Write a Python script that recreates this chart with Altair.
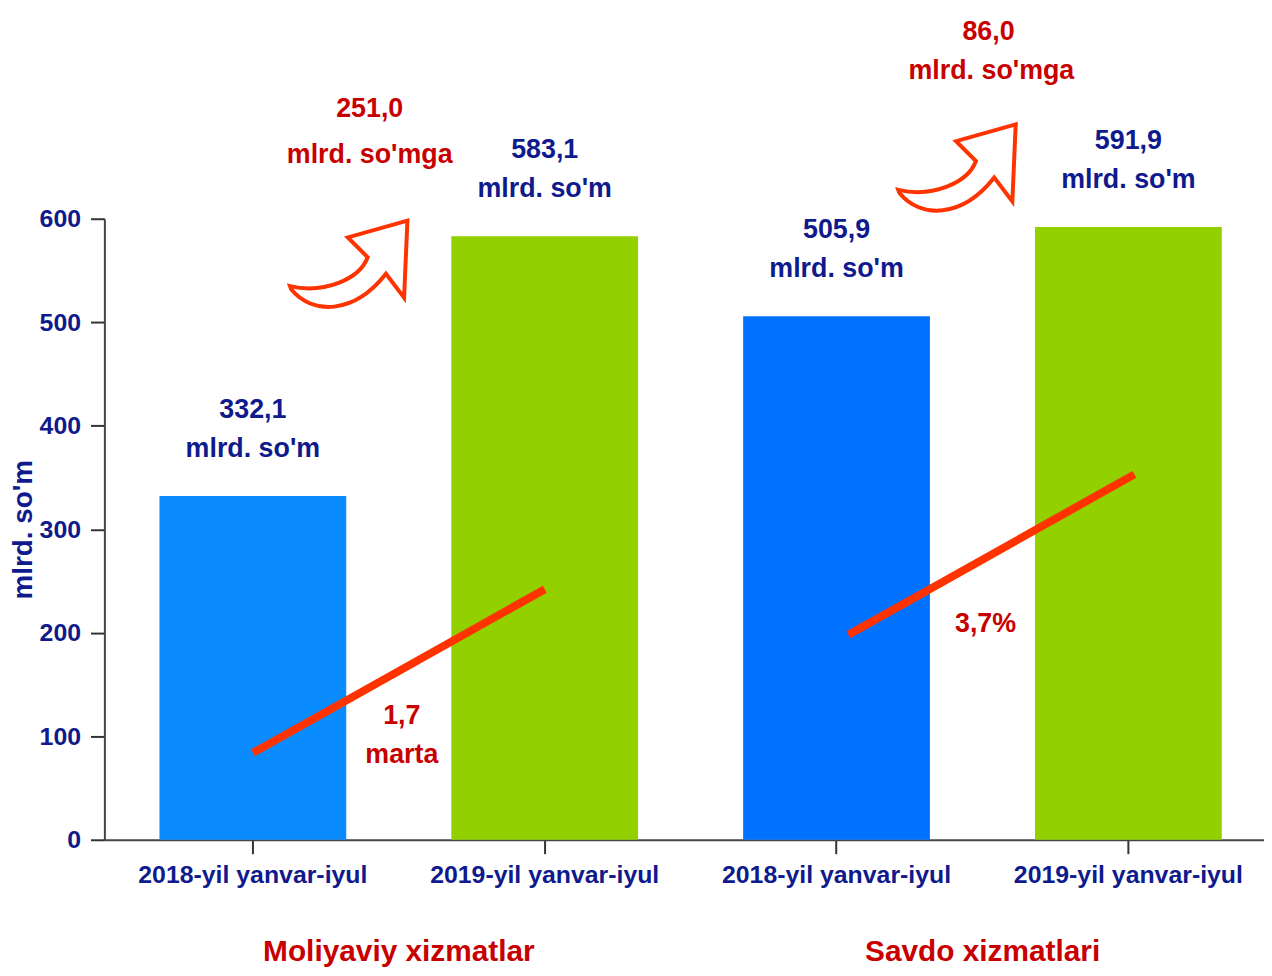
import altair as alt
import pandas as pd

# ---------------- data ----------------
keys = ["M2018", "M2019", "S2018", "S2019"]
tick_labels = ["2018-yil yanvar-iyul", "2019-yil yanvar-iyul",
               "2018-yil yanvar-iyul", "2019-yil yanvar-iyul"]
values = [332.1, 583.1, 505.9, 591.9]
value_text = ["332,1", "583,1", "505,9", "591,9"]
bar_colors = ["#0a8cff", "#92d000", "#0072ff", "#92d000"]
unit_text = "mlrd. so'm"
y_ticks = [0, 100, 200, 300, 400, 500, 600]

group_names = ["Moliyaviy xizmatlar", "Savdo xizmatlari"]
group_pos = [0.5, 2.5]
group_val = [-108, -108]

# growth lines (position in category units, value in mlrd. so'm)
line_group = ["M", "M", "S", "S"]
line_pos = [0.0, 1.0, 2.04, 3.02]
line_val = [84, 242, 198, 353]

# red annotations
note_text = ["251,0", "mlrd. so'mga", "86,0", "mlrd. so'mga", "1,7", "marta", "3,7%"]
note_pos = [0.40, 0.40, 2.52, 2.53, 0.51, 0.51, 2.51]
note_val = [706, 662, 780, 743, 120, 82, 208]

# curved arrows
arrow_pos = [0.325, 2.409]
arrow_val = [556, 649]

# ---------------- styles ----------------
NAVY = "#0f1a8c"
RED_TXT = "#c80000"
RED_LINE = "#ff3300"
FONT = "Liberation Sans Narrow, Arial Narrow, Liberation Sans, sans-serif"
ARROW_PATH = ("M 1 -0.733 L 0 -0.45 L 0.333 -0.117 C 0.2 0.25 -0.4 0.5 -0.97 0.367 "
              "L -0.95 0.42 C -0.6 0.85 0.1 0.85 0.64 0.16 L 0.944 0.56 Z")

bars_df = pd.DataFrame({"key": keys, "value": values, "vtext": value_text,
                        "unit": [unit_text] * len(keys), "color": bar_colors})
lines_df = pd.DataFrame({"grp": line_group, "pos": line_pos, "value": line_val})
notes_df = pd.DataFrame({"txt": note_text, "pos": note_pos, "value": note_val})
groups_df = pd.DataFrame({"txt": group_names, "pos": group_pos, "value": group_val})
arrows_df = pd.DataFrame({"pos": arrow_pos, "value": arrow_val})

label_expr = " : ".join(
    f"datum.value == '{k}' ? '{l}'" for k, l in zip(keys, tick_labels)
) + " : ''"

x_band = alt.X(
    "key:N", sort=keys,
    scale=alt.Scale(paddingInner=0.36, paddingOuter=0.1667, align=0.566),
    axis=alt.Axis(title=None, labelExpr=label_expr, labelAngle=0, labelLimit=400,
                  labelFont=FONT, labelFontSize=25, labelFontWeight="bold",
                  labelColor=NAVY, tickSize=14, labelPadding=9,
                  domainColor="#444", tickColor="#333", domainWidth=2, tickWidth=2),
)
y_main = alt.Y(
    "value:Q", scale=alt.Scale(domain=[0, 600], nice=False, zero=True),
    axis=alt.Axis(values=y_ticks, title="mlrd. so'm",
                  labelFont=FONT, labelFontSize=25, labelFontWeight="bold",
                  labelColor=NAVY, titleFont=FONT, titleFontSize=28,
                  titleFontWeight="bold", titleColor=NAVY, titlePadding=2,
                  tickSize=14, labelPadding=10, domainColor="#444",
                  tickColor="#333", domainWidth=2, tickWidth=2),
)
x_q = alt.X("pos:Q", scale=alt.Scale(domain=[-0.509, 3.464], nice=False, zero=False),
            axis=None)

bars = alt.Chart(bars_df).mark_bar().encode(
    x=x_band, y=y_main, color=alt.Color("color:N", scale=None))

val_lbl = alt.Chart(bars_df).mark_text(
    dy=-87, font=FONT, fontSize=27, fontWeight="bold", color=NAVY, baseline="middle"
).encode(x=x_band, y=y_main, text="vtext:N")
unit_lbl = alt.Chart(bars_df).mark_text(
    dy=-47, font=FONT, fontSize=27, fontWeight="bold", color=NAVY, baseline="middle"
).encode(x=x_band, y=y_main, text="unit:N")

growth = alt.Chart(lines_df).mark_line(
    color=RED_LINE, strokeWidth=8, strokeCap="butt"
).encode(x=x_q, y=y_main, detail="grp:N")

notes = alt.Chart(notes_df).mark_text(
    font=FONT, fontSize=27, fontWeight="bold", color=RED_TXT, baseline="middle"
).encode(x=x_q, y=y_main, text="txt:N")

groups = alt.Chart(groups_df).mark_text(
    font=FONT, fontSize=30, fontWeight="bold", color=RED_TXT, baseline="middle"
).encode(x=x_q, y=y_main, text="txt:N")

arrows = alt.Chart(arrows_df).mark_point(
    shape=ARROW_PATH, size=14400, filled=True, fill="white", stroke=RED_LINE,
    strokeWidth=4, opacity=1, fillOpacity=1, strokeOpacity=1
).encode(x=x_q, y=y_main)

main = alt.layer(bars, val_lbl, unit_lbl)
annot = alt.layer(growth, notes, groups, arrows)

chart = alt.layer(main, annot).resolve_scale(x="independent").properties(
    width=1167, height=625,
    padding={"left": 97, "top": 209, "right": 0, "bottom": 130},
    autosize=alt.AutoSizeParams(type="none"),
).configure_view(stroke=None).configure_axis(grid=False)

chart.save("out.html", embed_options={"renderer": "svg", "actions": False})
